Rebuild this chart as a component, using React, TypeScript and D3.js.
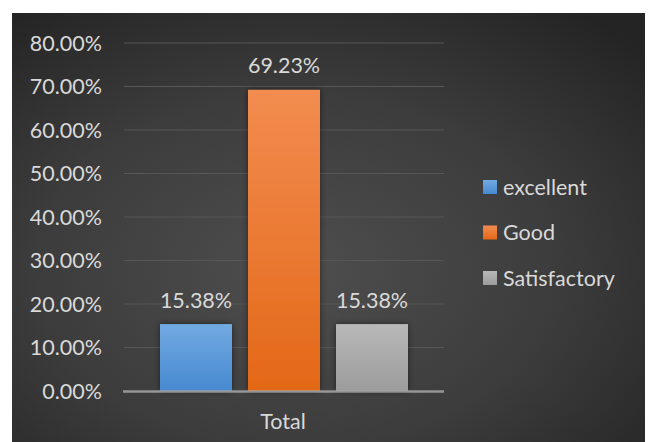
import React from "react";
import * as d3 from "d3";

const categories = ["Total"];
const seriesNames = ["excellent", "Good", "Satisfactory"];
const seriesValues = [0.1538, 0.6923, 0.1538];
const yTicks = [0, 0.1, 0.2, 0.3, 0.4, 0.5, 0.6, 0.7, 0.8];

const colorsTop = ["#72aae2", "#f28c50", "#b8b8b8"];
const colorsBottom = ["#4689d0", "#e36817", "#9c9c9c"];

const W = 651;
const H = 442;
const FONT = "Lato, 'Open Sans', sans-serif";
const FS = 21.5;

export default function App() {
  const plotLeft = 124;
  const plotRight = 444;
  const y = d3.scaleLinear().domain([0, 0.8]).range([391, 43]);
  const x0 = d3.scaleBand<string>().domain(categories).range([plotLeft, plotRight]);
  const x1 = d3
    .scaleBand<string>()
    .domain(seriesNames)
    .range([0, x0.bandwidth()])
    .paddingInner(16 / 88)
    .paddingOuter(0.409);
  const fmt = d3.format(".2%");

  return (
    <svg
      width={W}
      height={H}
      style={{ position: "absolute", left: 0, top: 0, display: "block" }}
    >
      <defs>
        <radialGradient id="bg" cx="0.45" cy="0.6" r="0.75">
          <stop offset="0" stopColor="#4e4e4e" />
          <stop offset="0.55" stopColor="#3c3c3c" />
          <stop offset="1" stopColor="#242424" />
        </radialGradient>
        {seriesNames.map((s, i) => (
          <linearGradient key={s} id={`g${i}`} x1="0" y1="0" x2="0" y2="1">
            <stop offset="0" stopColor={colorsTop[i]} />
            <stop offset="1" stopColor={colorsBottom[i]} />
          </linearGradient>
        ))}
        <filter id="shadow" x="-20%" y="-20%" width="140%" height="140%">
          <feGaussianBlur in="SourceAlpha" stdDeviation="3" />
          <feOffset dx="0" dy="0" result="b" />
          <feComponentTransfer>
            <feFuncA type="linear" slope="0.5" />
          </feComponentTransfer>
          <feMerge>
            <feMergeNode />
            <feMergeNode in="SourceGraphic" />
          </feMerge>
        </filter>
      </defs>
      <rect x={0} y={0} width={W} height={H} fill="#ffffff" />
      <rect x={12} y={13} width={633} height={H - 13} fill="url(#bg)" />

      {/* gridlines */}
      {yTicks.slice(1).map((t) => (
        <line
          key={t}
          x1={plotLeft}
          x2={plotRight}
          y1={y(t)}
          y2={y(t)}
          stroke="#575757"
          strokeWidth={1.2}
        />
      ))}
      {/* y tick labels */}
      {yTicks.map((t) => (
        <text
          key={t}
          x={102}
          y={y(t)}
          dy="0.35em"
          textAnchor="end"
          fontFamily={FONT}
          fontSize={FS}
          fill="#d9d9d9"
        >
          {fmt(t)}
        </text>
      ))}

      {/* bars */}
      {categories.map((c) => (
        <g key={c} transform={`translate(${x0(c)},0)`}>
          {seriesNames.map((s, i) => (
            <rect
              key={s}
              x={x1(s)}
              y={y(seriesValues[i])}
              width={x1.bandwidth()}
              height={y(0) - y(seriesValues[i])}
              fill={`url(#g${i})`}
              filter="url(#shadow)"
            />
          ))}
          {seriesNames.map((s, i) => (
            <text
              key={s + "l"}
              x={(x1(s) ?? 0) + x1.bandwidth() / 2}
              y={y(seriesValues[i]) - 24}
              dy="0.35em"
              textAnchor="middle"
              fontFamily={FONT}
              fontSize={FS}
              fill="#d9d9d9"
            >
              {fmt(seriesValues[i])}
            </text>
          ))}
          <text
            x={x0.bandwidth() / 2 - 1}
            y={421}
            dy="0.35em"
            textAnchor="middle"
            fontFamily={FONT}
            fontSize={FS}
            fill="#d9d9d9"
          >
            {c}
          </text>
        </g>
      ))}

      {/* axis line */}
      <line
        x1={plotLeft - 1}
        x2={plotRight}
        y1={y(0) + 0.5}
        y2={y(0) + 0.5}
        stroke="#a6a6a6"
        strokeOpacity={0.85}
        strokeWidth={2.5}
      />

      {/* legend */}
      {seriesNames.map((s, i) => (
        <g key={s} transform={`translate(483,${187 + i * 45.5})`}>
          <rect x={0} y={-7} width={14} height={14} fill={`url(#g${i})`} />
          <text
            x={20}
            y={0}
            dy="0.35em"
            fontFamily={FONT}
            fontSize={FS}
            fill="#d9d9d9"
          >
            {s}
          </text>
        </g>
      ))}
    </svg>
  );
}
